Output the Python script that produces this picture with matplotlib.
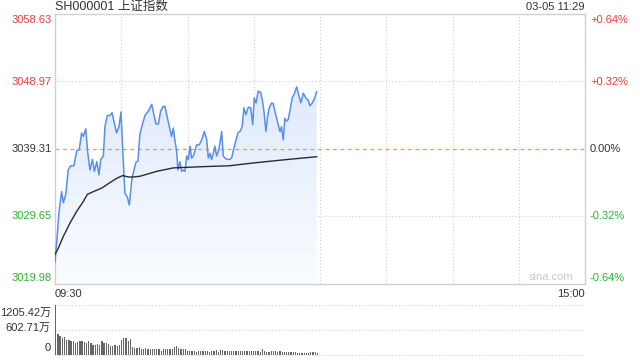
import numpy as np
import matplotlib
matplotlib.use('Agg')
import matplotlib.pyplot as plt

plt.rcParams['font.family'] = ['Liberation Sans', 'Noto Sans CJK SC', 'DejaVu Sans']

# data (minutes after 09:30)
price_min = [0.0, 1.0, 1.8, 3.0, 3.8, 4.9, 6.0, 7.1, 8.6, 9.9, 11.0, 12.1, 12.9, 14.0, 14.9,
             15.9, 17.0, 17.9, 19.0, 20.0, 20.8, 22.0, 22.7, 23.8, 25.0, 25.9, 27.0, 28.0,
             29.1, 30.0, 30.8, 31.8, 32.9, 33.8, 34.9, 35.9, 36.8, 37.7, 38.6, 39.9, 40.9,
             42.4, 44.0, 45.0, 45.9, 47.0, 48.0, 49.2, 50.0, 50.8, 52.0, 53.0, 53.8, 54.5,
             55.3, 55.9, 56.8, 57.6, 58.3, 59.1, 59.9, 60.6, 61.4, 62.1, 62.9, 63.6, 64.4,
             65.6, 66.7, 67.9, 69.0, 69.7, 70.5, 71.2, 72.0, 72.7, 73.5, 74.5, 75.8, 76.5,
             77.7, 79.2, 80.3, 81.4, 82.6, 83.3, 84.1, 85.1, 85.9, 86.8, 87.9, 89.0, 89.9,
             90.6, 91.4, 92.4, 93.5, 94.4, 95.1, 95.9, 96.7, 97.4, 98.5, 99.2, 100.0, 100.8,
             101.5, 102.3, 103.0, 103.8, 104.5, 105.3, 106.0, 106.8, 107.9, 108.8, 109.9,
             110.6, 111.8, 112.9, 114.1, 115.1, 115.9, 117.0, 118.2, 119.0]
price = [3023.1, 3026.8, 3030.2, 3033.2, 3031.6, 3032.8, 3036.3, 3036.9, 3036.9, 3039.1, 3039.2,
         3041.6, 3041.1, 3042.2, 3038.7, 3036.3, 3037.8, 3036.1, 3037.5, 3035.6, 3037.8, 3038.3,
         3042.5, 3044.1, 3044.1, 3044.5, 3043.0, 3041.6, 3042.5, 3044.6, 3039.2, 3033.0, 3032.4,
         3031.3, 3034.9, 3036.3, 3037.4, 3037.6, 3041.4, 3043.0, 3044.1, 3044.7, 3045.7, 3044.2,
         3042.9, 3042.9, 3044.7, 3045.4, 3045.4, 3044.2, 3042.5, 3041.1, 3042.3, 3040.6, 3039.0,
         3036.3, 3037.5, 3036.1, 3036.3, 3036.1, 3038.3, 3037.8, 3039.7, 3038.0, 3038.3, 3039.0,
         3039.9, 3039.9, 3040.6, 3041.8, 3040.6, 3038.0, 3038.7, 3037.8, 3038.7, 3039.7, 3038.3,
         3039.2, 3041.8, 3038.3, 3037.9, 3037.8, 3038.0, 3039.5, 3040.9, 3041.7, 3041.8, 3042.5,
         3045.2, 3044.2, 3045.3, 3045.2, 3042.8, 3046.6, 3045.9, 3047.6, 3047.4, 3046.1, 3044.5,
         3041.8, 3044.0, 3045.2, 3045.9, 3045.8, 3044.7, 3043.7, 3042.8, 3041.8, 3042.5, 3040.6,
         3043.7, 3043.3, 3043.5, 3044.7, 3046.7, 3047.2, 3048.2, 3047.3, 3045.9, 3047.3, 3046.6,
         3046.3, 3045.5, 3045.9, 3046.7, 3047.5]

avg_min = [0.0, 1.5, 3.8, 6.8, 9.9, 12.9, 14.7, 17.4, 21.2, 25.0, 28.0, 30.8, 33.3, 35.6, 38.6,
           46.2, 53.8, 61.4, 69.0, 79.1, 81.8, 90.1, 102.3, 119.0]
avg = [3024.2, 3025.1, 3026.8, 3028.7, 3030.4, 3031.8, 3032.8, 3033.2, 3033.7, 3034.5, 3035.1,
       3035.5, 3035.3, 3035.3, 3035.4, 3036.1, 3036.6, 3036.7, 3036.8, 3036.9, 3037.0, 3037.3,
       3037.7, 3038.2]

# volume per minute, 万
volume = [1205, 513, 448, 407, 432, 350, 350, 326, 326, 285, 310, 326, 326, 310, 285, 326, 285,
          244, 244, 269, 244, 326, 285, 285, 269, 228, 228, 244, 228, 252, 367, 407, 407, 326,
          383, 204, 179, 163, 204, 155, 155, 179, 138, 155, 155, 147, 138, 155, 106, 138, 138,
          155, 138, 138, 187, 228, 163, 155, 138, 138, 106, 106, 106, 106, 81, 90, 90, 106, 90,
          106, 81, 106, 106, 122, 81, 122, 122, 98, 90, 106, 106, 106, 90, 90, 106, 90, 90, 106,
          106, 98, 106, 90, 106, 73, 147, 90, 81, 73, 90, 90, 90, 73, 90, 65, 73, 81, 65, 73, 65,
          65, 57, 57, 57, 57, 57, 57, 65, 81, 81, 49]

prev_close = 3039.31
price_ticks = [3058.63, 3048.97, 3039.31, 3029.65, 3019.98]
pct_labels = ['+0.64%', '+0.32%', '0.00%', '-0.32%', '-0.64%']
vol_ticks = [0, 602.71, 1205.42]
vol_labels = ['0', '602.71万', '1205.42万']

red = '#f23b3b'
green = '#2db52d'
dark = '#333333'
grid_c = '#cfcfcf'

fig = plt.figure(figsize=(6.4, 3.6), dpi=100)
ax = fig.add_axes([55/640, 76/360, 530/640, 270/360])
axv = fig.add_axes([55/640, 5/360, 530/640, 50/360])

ymin, ymax = price_ticks[-1], price_ticks[0]
ax.set_xlim(0, 241)
ax.set_ylim(ymin, ymax)

# gradient fill under the price line
grad = np.linspace(1, 0, 256).reshape(-1, 1)
top_c = np.array([0.84, 0.89, 0.98])
bot_c = np.array([0.98, 0.99, 1.0])
img = top_c * grad[..., None] + bot_c * (1 - grad[..., None])
im = ax.imshow(img, extent=[0, 241, ymin, ymax], aspect='auto', zorder=1)
poly = ax.fill_between(price_min, price, ymin, color='none')
im.set_clip_path(poly.get_paths()[0], transform=ax.transData)

ax.plot(price_min, price, color='#5a8eec', lw=1.1, zorder=3)
ax.plot(avg_min, avg, color='#2b2b2b', lw=1.0, zorder=3)

# grid
for t in [30, 60, 90, 120, 150, 180, 210]:
    ax.axvline(t * 241/240, color=grid_c, lw=0.8, ls=(0, (1, 2)), zorder=0)
for p in [price_ticks[1], price_ticks[3]]:
    ax.axhline(p, color=grid_c, lw=0.8, ls=(0, (1, 2)), zorder=0)
ax.axhline(prev_close, color='#f0955e', lw=0.9, ls=(0, (3, 3)), zorder=2)

for s in ax.spines.values():
    s.set_color('#d0d0d0')
    s.set_linewidth(1)
ax.set_xticks([])
ax.set_yticks([])

# axis labels
label_y = [20, 82, 149, 216, 278]
colors = [red, red, dark, green, green]
for py, lab, pl, c in zip(label_y, price_ticks, pct_labels, colors):
    fig.text(52/640, 1 - py/360, f'{lab:.2f}', ha='right', va='center', fontsize=8, color=c)
    fig.text(590/640, 1 - py/360, pl, ha='left', va='center', fontsize=8, color=c)

fig.text(55/640, 1 - 7/360, 'SH000001 上证指数', ha='left', va='center', fontsize=9, color=dark)
fig.text(584/640, 1 - 7/360, '03-05 11:29', ha='right', va='center', fontsize=8, color=dark)
fig.text(55/640, 1 - 294/360, '09:30', ha='left', va='center', fontsize=8, color=dark)
fig.text(585/640, 1 - 294/360, '15:00', ha='right', va='center', fontsize=8, color=dark)
fig.text(573/640, 1 - 277/360, 'sina.com', ha='right', va='center', fontsize=8, color='#c8c8c8')

# volume panel
axv.bar(range(len(volume)), volume, width=0.6, color='#666666', align='edge')
axv.set_xlim(0, 241)
axv.set_ylim(0, vol_ticks[-1])
for v in vol_ticks:
    axv.axhline(v, color=grid_c, lw=0.8, ls=(0, (1, 2)), zorder=0, clip_on=False)
for s in axv.spines.values():
    s.set_visible(False)
axv.set_xticks([])
axv.set_yticks([])
for vy, lab in zip([348, 328, 313], vol_labels):
    fig.text(51/640, 1 - vy/360, lab, ha='right', va='center', fontsize=8, color=dark)

fig.savefig('out.png', dpi=100, facecolor='white')
